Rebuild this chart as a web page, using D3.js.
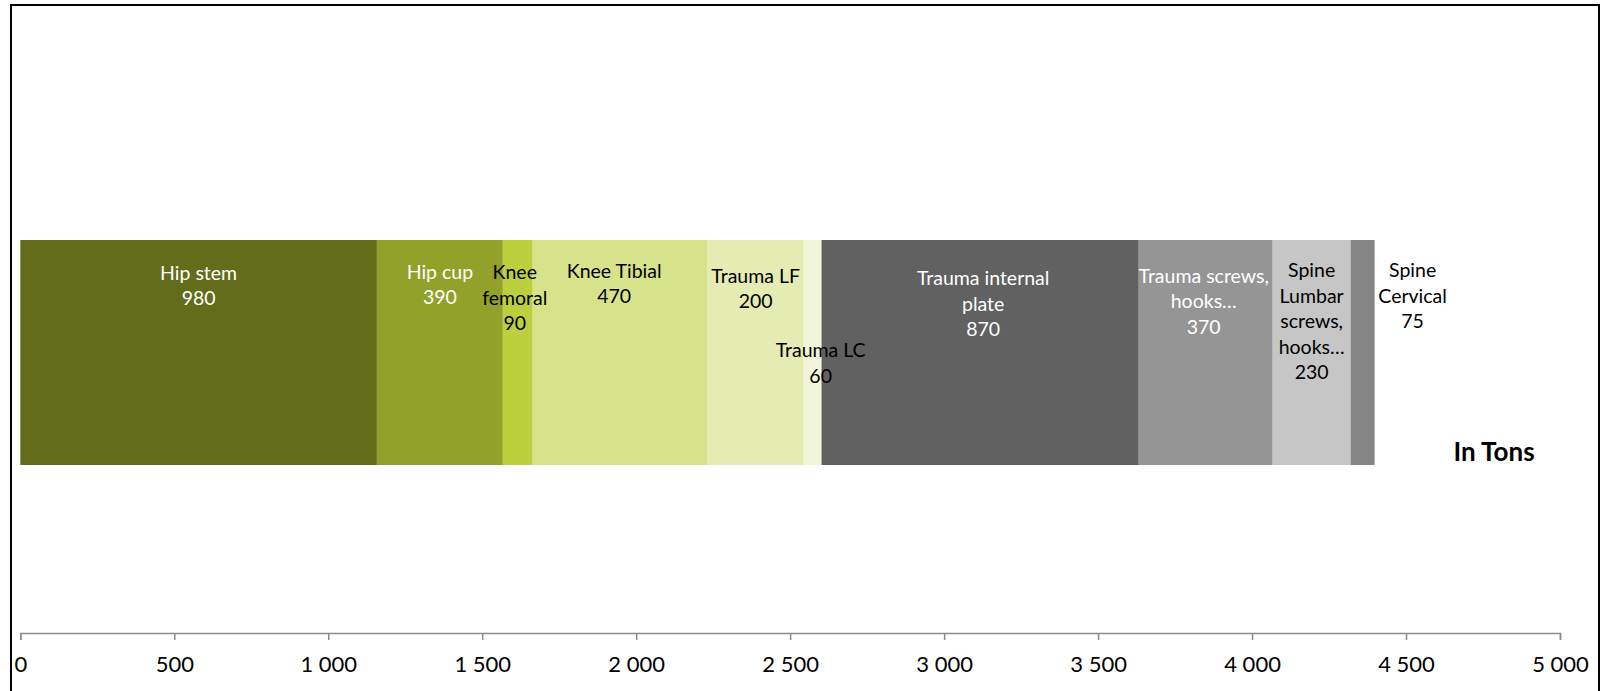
<!DOCTYPE html>
<html>
<head>
<meta charset="utf-8">
<script src="https://cdn.jsdelivr.net/npm/d3@7"></script>
<style>
  body { margin: 0; background: #fff; }
  svg { display: block; font-family: Lato, "Open Sans", sans-serif; }
</style>
</head>
<body>
<svg id="chart" width="1604" height="691"></svg>
<script>
// segment names, bar lengths (as drawn) and the values printed in the labels
const segments = ["Hip stem", "Hip cup", "Knee femoral", "Knee Tibial", "Trauma LF", "Trauma LC",
    "Trauma internal plate", "Trauma screws, hooks…", "Spine Lumbar screws, hooks…", "Spine Cervical"];
const barValues = [1158, 409, 97, 568, 312, 58, 1030, 435, 253, 78];
const labelValues = [980, 390, 90, 470, 200, 60, 870, 370, 230, 75];
const labelLines = [["Hip stem"], ["Hip cup"], ["Knee", "femoral"], ["Knee Tibial"], ["Trauma LF"], ["Trauma LC"],
    ["Trauma internal", "plate"], ["Trauma screws,", "hooks…"], ["Spine", "Lumbar", "screws,", "hooks…"], ["Spine", "Cervical"]];
const xTicks = [0, 500, 1000, 1500, 2000, 2500, 3000, 3500, 4000, 4500, 5000];
const colors = ["#626c1b", "#91a12a", "#bbd03c", "#d6e38b", "#e4ecb4", "#f1f5d9",
    "#616161", "#959595", "#c6c6c6", "#868686"];

// label layout tweaks (Excel moved some labels by hand)
const labelDx = [0, 0, -3, -6, 0, 8, 3, -2, 0, 50];
const labelDy = [39.5, 38.5, 39, 37.5, 42.7, 117.3, 45, 42.7, 37.3, 37];
const labelColor = ["#fff", "#fff", "#000", "#000", "#000", "#000", "#fff", "#fff", "#000", "#000"];
const lineH = 25.5;

var svg = d3.select("#chart"),
    margin = { top: 72, left: 20.3, right: 44 },
    axisY = 633;

// frame
svg.append("rect")
    .attr("x", 11).attr("y", 5)
    .attr("width", 1588).attr("height", 720)
    .attr("fill", "none")
    .attr("stroke", "#000")
    .attr("stroke-width", 2);

var x = d3.scaleLinear()
    .domain([0, 5000])
    .range([margin.left, 1604 - margin.right]);

var y = d3.scaleBand()
    .domain(["total"])
    .range([margin.top, axisY])
    .padding(0.4275);

var row = { cat: "total" };
segments.forEach((s, i) => row[s] = barValues[i]);
var stacked = d3.stack().keys(segments)([row]);

svg.append("g").selectAll("rect")
    .data(stacked)
    .join("rect")
    .attr("x", d => x(d[0][0]))
    .attr("y", y("total"))
    .attr("width", d => x(d[0][1]) - x(d[0][0]))
    .attr("height", y.bandwidth())
    .attr("fill", (d, i) => colors[i]);

// data labels
var labels = svg.append("g")
    .attr("font-size", 19.5)
    .attr("text-anchor", "middle")
    .selectAll("text")
    .data(stacked)
    .join("text")
    .attr("fill", (d, i) => labelColor[i])
    .attr("transform", (d, i) => `translate(${(x(d[0][0]) + x(d[0][1])) / 2 + labelDx[i]},${y("total") + labelDy[i]})`);

labels.each(function (d, i) {
    var t = d3.select(this);
    labelLines[i].concat([String(labelValues[i])]).forEach((line, j) => {
        t.append("tspan").attr("x", 0).attr("y", j * lineH).text(line);
    });
});

// x axis
var fmt = d3.formatLocale({ decimal: ",", thousands: " ", grouping: [3], currency: ["", ""] }).format(",d");
var xAxis = svg.append("g")
    .attr("transform", `translate(0,${axisY})`)
    .call(d3.axisBottom(x).tickValues(xTicks).tickFormat(fmt).tickSize(7).tickSizeOuter(7));

xAxis.selectAll("path, line").attr("stroke", "#8c8c8c").attr("stroke-width", 1.5);
xAxis.selectAll("text")
    .attr("y", 39).attr("dy", 0)
    .attr("fill", "#000")
    .attr("font-size", 22)
    .attr("font-family", "Lato, sans-serif");

// unit note
svg.append("text")
    .attr("x", 1494).attr("y", 461)
    .attr("text-anchor", "middle")
    .attr("font-size", 26)
    .attr("font-weight", "bold")
    .text("In Tons");
</script>
</body>
</html>
